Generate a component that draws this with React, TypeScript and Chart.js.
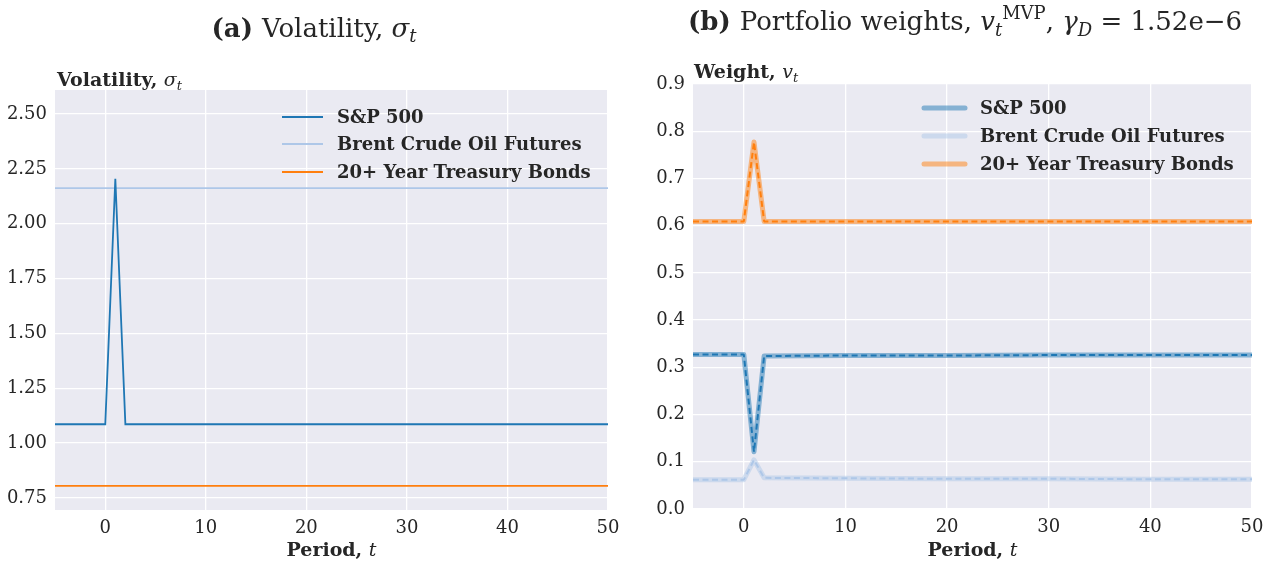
import React, { useEffect, useRef } from "react";
import { Chart, registerables } from "chart.js";

Chart.register(...registerables);

// ---------------- data ----------------
const periods = [-5, 0, 1, 2, 10, 20, 30, 40, 50];
const seriesNames = ["S&P 500", "Brent Crude Oil Futures", "20+ Year Treasury Bonds"];
const seriesColors = ["#1f77b4", "#aec7e8", "#ff7f0e"];

const volSP = [1.086, 1.086, 2.205, 1.086, 1.086, 1.086, 1.086, 1.086, 1.086];
const volBrent = [2.163, 2.163, 2.163, 2.163, 2.163, 2.163, 2.163, 2.163, 2.163];
const volBonds = [0.805, 0.805, 0.805, 0.805, 0.805, 0.805, 0.805, 0.805, 0.805];

const wSP = [0.327, 0.327, 0.121, 0.324, 0.325, 0.325, 0.326, 0.326, 0.326];
const wBrent = [0.062, 0.062, 0.104, 0.066, 0.065, 0.064, 0.064, 0.063, 0.063];
const wBonds = [0.609, 0.609, 0.777, 0.609, 0.609, 0.609, 0.609, 0.609, 0.609];

const xTicks = [0, 10, 20, 30, 40, 50];
const volTicks = [0.75, 1.0, 1.25, 1.5, 1.75, 2.0, 2.25, 2.5];
const wTicks = [0.0, 0.1, 0.2, 0.3, 0.4, 0.5, 0.6, 0.7, 0.8, 0.9];

// ---------------- styling ----------------
const SERIF = '"DejaVu Serif", "Liberation Serif", serif';
const TEXT = "#262626";
const BG = "#eaeaf2";

type Run = { text: string; font: string; dy?: number };

function drawRuns(ctx: CanvasRenderingContext2D, runs: Run[], x: number, y: number, align: "left" | "center") {
  let total = 0;
  for (const r of runs) {
    ctx.font = r.font;
    total += ctx.measureText(r.text).width;
  }
  let cx = align === "center" ? x - total / 2 : x;
  ctx.textAlign = "left";
  ctx.textBaseline = "alphabetic";
  ctx.fillStyle = TEXT;
  for (const r of runs) {
    ctx.font = r.font;
    ctx.fillText(r.text, cx, y + (r.dy || 0));
    cx += ctx.measureText(r.text).width;
  }
}

function toRgba(hex: string, a: number) {
  const n = parseInt(hex.slice(1), 16);
  return `rgba(${(n >> 16) & 255},${(n >> 8) & 255},${n & 255},${a})`;
}

type Deco = {
  title: Run[];
  titleX: number;
  titleY: number;
  yLabel: Run[];
  yLabelX: number;
  yLabelY: number;
  xLabelY: number;
  legendX: number;
  legendTextX: number;
  legendRows: number[];
  legendWidth: number;
  legendAlpha: number;
};

function makeDecoPlugin(d: Deco) {
  return {
    id: "deco",
    beforeDraw(chart: any) {
      const { ctx, chartArea } = chart;
      ctx.save();
      ctx.fillStyle = BG;
      ctx.fillRect(chartArea.left, chartArea.top, chartArea.right - chartArea.left, chartArea.bottom - chartArea.top);
      ctx.restore();
    },
    afterDraw(chart: any) {
      const { ctx, chartArea } = chart;
      ctx.save();
      const cx = (chartArea.left + chartArea.right) / 2;
      drawRuns(ctx, d.title, d.titleX, d.titleY, "center");
      drawRuns(ctx, d.yLabel, d.yLabelX, d.yLabelY, "left");
      drawRuns(
        ctx,
        [
          { text: "Period, ", font: `bold 19px ${SERIF}` },
          { text: "t", font: `italic 19px ${SERIF}` },
        ],
        cx,
        d.xLabelY,
        "center"
      );
      // legend
      seriesNames.forEach((name, i) => {
        const y = d.legendRows[i];
        ctx.strokeStyle = toRgba(seriesColors[i], d.legendAlpha);
        ctx.lineWidth = d.legendWidth;
        ctx.lineCap = d.legendWidth > 3 ? "round" : "butt";
        ctx.beginPath();
        ctx.moveTo(d.legendX, y);
        ctx.lineTo(d.legendX + 41, y);
        ctx.stroke();
        ctx.fillStyle = TEXT;
        ctx.font = `bold 18px ${SERIF}`;
        ctx.textBaseline = "middle";
        ctx.textAlign = "left";
        ctx.fillText(name, d.legendTextX, y + 1);
      });
      ctx.restore();
    },
  };
}

function scalesFor(yMin: number, yMax: number, yTicks: number[], yDigits: number, yWidth: number, xHeight: number) {
  return {
    x: {
      type: "linear",
      min: -5,
      max: 50,
      afterBuildTicks: (s: any) => {
        s.ticks = xTicks.map((v) => ({ value: v }));
      },
      afterFit: (s: any) => {
        s.height = xHeight;
      },
      grid: { color: "#ffffff", lineWidth: 1.3, drawTicks: false },
      border: { display: false },
      ticks: {
        padding: 8,
        color: TEXT,
        font: { family: SERIF, size: 18 },
        maxRotation: 0,
        callback: (v: any) => String(v),
      },
    },
    y: {
      type: "linear",
      min: yMin,
      max: yMax,
      afterBuildTicks: (s: any) => {
        s.ticks = yTicks.map((v) => ({ value: v }));
      },
      afterFit: (s: any) => {
        s.width = yWidth;
      },
      grid: { color: "#ffffff", lineWidth: 1.3, drawTicks: false },
      border: { display: false },
      ticks: {
        padding: 8,
        color: TEXT,
        font: { family: SERIF, size: 18 },
        callback: (v: any) => Number(v).toFixed(yDigits),
      },
    },
  };
}

function pts(arr: number[]) {
  return periods.map((p, i) => ({ x: p, y: arr[i] }));
}

function LeftChart() {
  const ref = useRef<HTMLCanvasElement>(null);
  useEffect(() => {
    const vals = [volSP, volBrent, volBonds];
    const scales: any = scalesFor(0.695, 2.61, volTicks, 2, 55, 60);
    const chart = new Chart(ref.current!, {
      type: "line",
      data: {
        datasets: vals.map((v, i) => ({
          label: seriesNames[i],
          data: pts(v),
          borderColor: seriesColors[i],
          borderWidth: 1.8,
          pointRadius: 0,
          fill: false,
          tension: 0,
        })),
      },
      options: {
        responsive: false,
        animation: false,
        devicePixelRatio: 1,
        layout: { padding: { top: 90, right: 32, left: 0, bottom: 0 } },
        plugins: { legend: { display: false }, tooltip: { enabled: false } },
        scales,
      } as any,
      plugins: [
        makeDecoPlugin({
          title: [
            { text: "(a) ", font: `bold 26px ${SERIF}` },
            { text: "Volatility, ", font: `26px ${SERIF}` },
            { text: "σ", font: `italic 26px ${SERIF}` },
            { text: "t", font: `italic 18px ${SERIF}`, dy: 5 },
          ],
          titleX: 314,
          titleY: 37,
          yLabel: [
            { text: "Volatility, ", font: `bold 19px ${SERIF}` },
            { text: "σ", font: `italic 19px ${SERIF}` },
            { text: "t", font: `italic 13px ${SERIF}`, dy: 4 },
          ],
          yLabelX: 57,
          yLabelY: 86,
          xLabelY: 556,
          legendX: 282,
          legendTextX: 337,
          legendRows: [117, 144, 172],
          legendWidth: 1.8,
          legendAlpha: 1,
        }),
      ],
    });
    return () => chart.destroy();
  }, []);
  return <canvas ref={ref} width={640} height={570} />;
}

function RightChart() {
  const ref = useRef<HTMLCanvasElement>(null);
  useEffect(() => {
    const vals = [wSP, wBrent, wBonds];
    const scales: any = scalesFor(0, 0.9, wTicks, 1, 53, 61);
    const datasets: any[] = [];
    vals.forEach((v, i) => {
      datasets.push({
        label: seriesNames[i],
        data: pts(v),
        borderColor: toRgba(seriesColors[i], 0.5),
        borderWidth: 5,
        borderJoinStyle: "round",
        borderCapStyle: "butt",
        pointRadius: 0,
        fill: false,
        tension: 0,
      });
    });
    vals.forEach((v, i) => {
      datasets.push({
        label: seriesNames[i] + " (dashed)",
        data: pts(v),
        borderColor: seriesColors[i],
        borderWidth: 2,
        borderDash: [6, 3.5],
        borderJoinStyle: "bevel",
        pointRadius: 0,
        fill: false,
        tension: 0,
      });
    });
    const chart = new Chart(ref.current!, {
      type: "line",
      data: { datasets },
      options: {
        responsive: false,
        animation: false,
        devicePixelRatio: 1,
        layout: { padding: { top: 84, right: 33, left: 0, bottom: 0 } },
        plugins: { legend: { display: false }, tooltip: { enabled: false } },
        scales,
      } as any,
      plugins: [
        makeDecoPlugin({
          title: [
            { text: "(b) ", font: `bold 26px ${SERIF}` },
            { text: "Portfolio weights, ", font: `26px ${SERIF}` },
            { text: "v", font: `italic 26px ${SERIF}` },
            { text: "t", font: `italic 18px ${SERIF}`, dy: 6 },
            { text: "MVP", font: `18px ${SERIF}`, dy: -11 },
            { text: ", ", font: `26px ${SERIF}` },
            { text: "γ", font: `italic 26px ${SERIF}` },
            { text: "D", font: `italic 18px ${SERIF}`, dy: 6 },
            { text: " = 1.52e−6", font: `26px ${SERIF}` },
          ],
          titleX: 325,
          titleY: 30,
          yLabel: [
            { text: "Weight, ", font: `bold 19px ${SERIF}` },
            { text: "v", font: `italic 19px ${SERIF}` },
            { text: "t", font: `italic 13px ${SERIF}`, dy: 4 },
          ],
          yLabelX: 54,
          yLabelY: 78,
          xLabelY: 556,
          legendX: 284,
          legendTextX: 340,
          legendRows: [108, 136, 164],
          legendWidth: 5,
          legendAlpha: 0.5,
        }),
      ],
    });
    return () => chart.destroy();
  }, []);
  return <canvas ref={ref} width={645} height={570} />;
}

export default function App() {
  return (
    <div style={{ position: "fixed", left: 0, top: 0, width: 1285, height: 570, background: "#ffffff" }}>
      <div style={{ position: "absolute", left: 0, top: 0 }}>
        <LeftChart />
      </div>
      <div style={{ position: "absolute", left: 640, top: 0 }}>
        <RightChart />
      </div>
    </div>
  );
}
